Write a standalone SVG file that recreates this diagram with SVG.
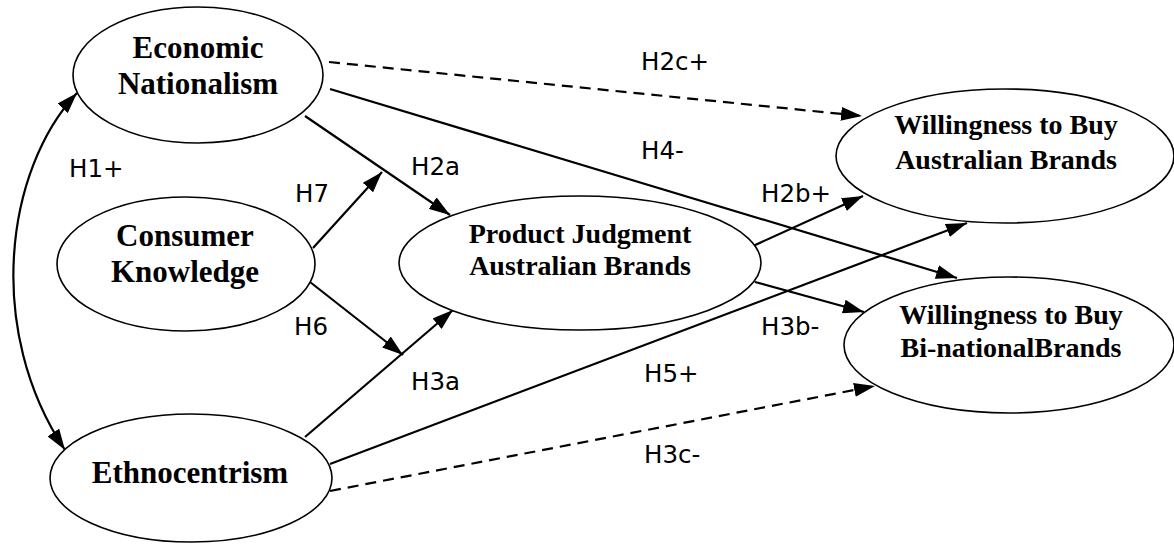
<svg xmlns="http://www.w3.org/2000/svg" width="1174" height="544" viewBox="0 0 1174 544">
<style>
.node{fill:#fff;stroke:#000;stroke-width:1.6}
.nt{font-family:"Liberation Serif","Times New Roman",serif;font-weight:bold;text-anchor:middle;fill:#000}
.big{font-size:31px}
.med{font-size:28px}
.lbl{font-family:"DejaVu Sans",Verdana,sans-serif;font-size:24.5px;fill:#000}
.c{fill:none;stroke:#000;stroke-width:2.2;marker-end:url(#ah)}
.d{stroke-dasharray:11 7}
</style>
<defs>
<marker id="ah" markerUnits="userSpaceOnUse" markerWidth="21" markerHeight="14" refX="21" refY="7" orient="auto-start-reverse" viewBox="0 0 21 14">
<path d="M0,0 L21,7 L0,14 Z" fill="#000"/>
</marker>
</defs>
<rect width="1174" height="544" fill="#fff"/>
<g id="connectors">
<path class="c" style="marker-start:url(#ah)" d="M77,93 C5,170 -15,330 65,450"/>
<path class="c d" d="M329,62 L862,116"/>
<path class="c" d="M330,89 L957,278"/>
<path class="c" d="M305,116 L450,215"/>
<path class="c" d="M313,248 L382,172"/>
<path class="c" d="M310,282 L403,355"/>
<path class="c" d="M305,437 L453,310"/>
<path class="c" d="M330,464 L967,223"/>
<path class="c d" d="M330,491 L875,386"/>
<path class="c" d="M753,246 L863,196"/>
<path class="c" d="M755,282 L864,312"/>
</g>
<g id="labels">
<text class="lbl" x="69" y="177">H1+</text>
<text class="lbl" x="641" y="70">H2c+</text>
<text class="lbl" x="641" y="159">H4-</text>
<text class="lbl" x="411" y="175">H2a</text>
<text class="lbl" x="295" y="202">H7</text>
<text class="lbl" x="761" y="202">H2b+</text>
<text class="lbl" x="294" y="335">H6</text>
<text class="lbl" x="411" y="390">H3a</text>
<text class="lbl" x="644" y="382">H5+</text>
<text class="lbl" x="644" y="463">H3c-</text>
<text class="lbl" x="761" y="335">H3b-</text>
</g>
<g id="economic-nationalism">
<ellipse class="node" cx="198" cy="75" rx="125" ry="68"/>
<text class="nt big" x="198" y="58">Economic</text>
<text class="nt big" x="198" y="94">Nationalism</text>
</g>
<g id="consumer-knowledge">
<ellipse class="node" cx="186" cy="264" rx="129" ry="67"/>
<text class="nt big" x="185" y="246">Consumer</text>
<text class="nt big" x="185" y="282">Knowledge</text>
</g>
<g id="ethnocentrism">
<ellipse class="node" cx="191" cy="478" rx="141" ry="64"/>
<text class="nt big" x="190" y="483">Ethnocentrism</text>
</g>
<g id="product-judgment">
<ellipse class="node" cx="580" cy="263" rx="181" ry="67"/>
<text class="nt med" x="580" y="243">Product Judgment</text>
<text class="nt med" x="580" y="275">Australian Brands</text>
</g>
<g id="wtb-australian">
<ellipse class="node" cx="1005" cy="156" rx="169" ry="67"/>
<text class="nt med" x="1006" y="134">Willingness to Buy</text>
<text class="nt med" x="1006" y="169">Australian Brands</text>
</g>
<g id="wtb-binational">
<ellipse class="node" cx="1009" cy="345" rx="165" ry="68"/>
<text class="nt med" x="1011" y="324">Willingness to Buy</text>
<text class="nt med" x="1011" y="357">Bi-nationalBrands</text>
</g>
</svg>
